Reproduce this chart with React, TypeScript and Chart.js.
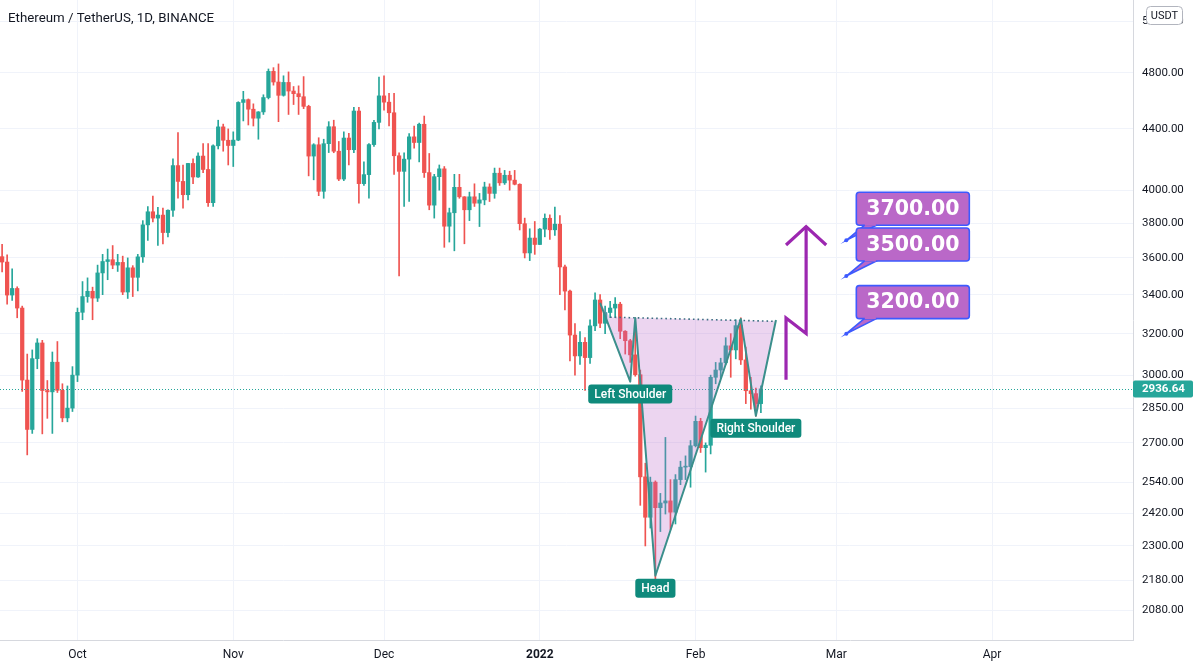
import React, { useEffect, useRef } from 'react';
import { Chart, registerables } from 'chart.js';

Chart.register(...registerables);

const TITLE = 'Ethereum / TetherUS, 1D, BINANCE';
const CURRENCY = 'USDT';
const ORIGIN_DATE = '2021-10-01';
const FIRST_CANDLE_DATE = '2021-09-16';
const LAST_PRICE = 2936.64;

// Daily candles, 2021-09-16 .. 2022-02-14
const open = [
  3607, 3577, 3398, 3433, 3330, 2977, 2757, 3078, 3154, 2929, 2923, 3061, 2930, 2807, 2850,
  3000, 3308, 3390, 3418, 3382, 3517, 3580, 3590, 3560, 3575, 3414, 3545, 3493, 3606, 3790, 3868, 3830, 3848, 3745, 3877, 4156, 4055, 3972, 4170, 4083, 4218, 4131, 3923, 4286, 4414, 4323,
  4288, 4324, 4585, 4605, 4537, 4474, 4518, 4620, 4812, 4733, 4636, 4730, 4667, 4648, 4626, 4557, 4218, 4293, 3993, 4300, 4415, 4250, 4070, 4338, 4260, 4524, 4041, 4098, 4294, 4445,
  4632, 4587, 4512, 4220, 4119, 4198, 4346, 4308, 4432, 4111, 3908, 4085, 4135, 3782, 3862, 4018, 3959, 3880, 3959, 3920, 3940, 4020, 3980, 4107, 4046, 4094, 4063, 4037, 3797, 3628, 3713,
  3676, 3765, 3829, 3761, 3794, 3550, 3419, 3193, 3091, 3157, 3083, 3239, 3372, 3252, 3307, 3330, 3350, 3212, 3165, 3096, 3002, 2561, 2405, 2540, 2441, 2459, 2467, 2424, 2550, 2600, 2602,
  2688, 2792, 2680, 2690, 2990, 3024, 3058, 3140, 3120, 3240, 3072, 2928, 2915, 2870,
];
const high = [
  3677, 3617, 3539, 3442, 3340, 3100, 3120, 3175, 3167, 2975, 3110, 3161, 2960, 2950, 3040,
  3330, 3470, 3490, 3440, 3560, 3620, 3650, 3670, 3620, 3610, 3600, 3557, 3620, 3815, 3900, 3963, 3895, 3890, 3880, 4200, 4375, 4160, 4170, 4200, 4240, 4300, 4300, 4292, 4460, 4433, 4400,
  4380, 4590, 4665, 4610, 4575, 4520, 4640, 4830, 4840, 4868, 4779, 4808, 4700, 4705, 4773, 4565, 4300, 4340, 4330, 4450, 4460, 4315, 4380, 4370, 4550, 4550, 4180, 4300, 4460, 4770,
  4778, 4650, 4650, 4240, 4240, 4368, 4420, 4440, 4489, 4235, 4100, 4160, 4150, 3890, 4100, 4100, 3960, 3988, 4040, 3980, 4050, 4040, 4140, 4140, 4125, 4120, 4125, 4040, 3830, 3767, 3810,
  3769, 3855, 3850, 3897, 3845, 3560, 3425, 3250, 3210, 3180, 3270, 3410, 3400, 3340, 3365, 3385, 3360, 3215, 3172, 3260, 3024, 2616, 2560, 2545, 2496, 2723, 2550, 2570, 2624, 2646, 2710,
  2815, 2805, 2700, 3000, 3060, 3080, 3180, 3200, 3270, 3280, 3134, 2990, 2940, 2950,
];
const low = [
  3522, 3350, 3370, 3280, 2925, 2650, 2740, 3030, 2738, 2805, 2740, 2920, 2790, 2790, 2835,
  2970, 3270, 3360, 3270, 3364, 3400, 3480, 3540, 3525, 3400, 3380, 3390, 3420, 3575, 3700, 3808, 3670, 3680, 3720, 3840, 3950, 3890, 3940, 4040, 4080, 4110, 3900, 3900, 4265, 4250, 4160,
  4150, 4320, 4455, 4427, 4420, 4330, 4500, 4610, 4710, 4450, 4630, 4500, 4570, 4500, 4541, 4090, 4065, 3966, 3950, 4241, 4240, 4060, 4060, 4160, 4240, 3920, 4030, 3950, 4282, 4400,
  4530, 4420, 4100, 3500, 3900, 3930, 4270, 4180, 4080, 3880, 3830, 4000, 3660, 3690, 3640, 3950, 3680, 3815, 3900, 3780, 3910, 3930, 3950, 4030, 4036, 4000, 4033, 3760, 3600, 3585, 3620,
  3676, 3720, 3705, 3728, 3400, 3320, 3067, 3000, 3050, 2930, 3055, 3215, 3230, 3200, 3280, 3280, 3175, 3100, 3060, 2995, 2450, 2300, 2365, 2159, 2352, 2417, 2360, 2380, 2530, 2550, 2520,
  2683, 2660, 2580, 2654, 2960, 2985, 3050, 2990, 3077, 3050, 2870, 2845, 2815, 2830,
];
const close = [
  3577, 3398, 3433, 3330, 2977, 2757, 3078, 3154, 2929, 2923, 3061, 2930, 2807, 2850, 3000,
  3308, 3390, 3418, 3382, 3517, 3580, 3590, 3560, 3575, 3414, 3545, 3493, 3606, 3790, 3868, 3830, 3848, 3745, 3877, 4156, 4055, 3972, 4170, 4083, 4218, 4131, 3923, 4286, 4414, 4323, 4288,
  4324, 4585, 4605, 4537, 4474, 4518, 4620, 4812, 4733, 4636, 4730, 4667, 4648, 4626, 4557, 4218, 4293, 3993, 4300, 4415, 4250, 4070, 4338, 4260, 4524, 4041, 4098, 4294, 4445, 4632,
  4587, 4512, 4220, 4119, 4198, 4346, 4308, 4432, 4111, 3908, 4085, 4135, 3782, 3862, 4018, 3959, 3880, 3959, 3920, 3940, 4020, 3980, 4107, 4046, 4094, 4063, 4037, 3797, 3628, 3713, 3676,
  3765, 3829, 3761, 3794, 3550, 3419, 3193, 3091, 3157, 3083, 3239, 3372, 3252, 3307, 3330, 3350, 3212, 3165, 3096, 3002, 2561, 2405, 2540, 2441, 2459, 2467, 2424, 2550, 2600, 2602, 2688,
  2792, 2680, 2690, 2990, 3024, 3058, 3140, 3120, 3240, 3072, 2928, 2915, 2870, 2936.64,
];

const priceTicks = [2080, 2180, 2300, 2420, 2540, 2700, 2850, 3000, 3200, 3400, 3600, 3800, 4000, 4400, 4800, 5200];
const timeTickDates = ['2021-10-01', '2021-11-01', '2021-12-01', '2022-01-01', '2022-02-01', '2022-03-01', '2022-04-01'];
const timeTickLabels = ['Oct', 'Nov', 'Dec', '2022', 'Feb', 'Mar', 'Apr'];

// visible window (days relative to ORIGIN_DATE, price range)
const VIEW_DAYS = [-15.42, 210.05];
const VIEW_PRICES = [1987, 5377];

// inverse head & shoulders drawing
const patternDates = ['2022-01-13', '2022-01-19', '2022-01-20', '2022-01-24', '2022-02-10', '2022-02-13', '2022-02-17'];
const patternPrices = [3357, 2970, 3279, 2196, 3274, 2816, 3269];
const necklineDates = ['2022-01-15', '2022-02-17'];
const necklinePrices = [3283, 3262];
const patternLabels = ['Left Shoulder', 'Head', 'Right Shoulder'];
const patternLabelPoints = [1, 3, 5];

// purple breakout arrow
const arrowDates = ['2022-02-19', '2022-02-19', '2022-02-23', '2022-02-23'];
const arrowPrices = [2978, 3279, 3201, 3780];
const arrowHeadDates = ['2022-02-19', '2022-02-23', '2022-02-27'];
const arrowHeadPrices = [3673, 3780, 3673];

// target price callouts
const targetDate = '2022-03-03';
const targetPrices = [3700, 3500, 3200];

const UP = '#26a69a';
const DOWN = '#ef5350';
const GRID = '#f0f3fa';
const TEXT = '#131722';

function dayIndex(iso: string): number {
  return Math.round((Date.parse(iso + 'T00:00:00Z') - Date.parse(ORIGIN_DATE + 'T00:00:00Z')) / 86400000);
}

function roundRect(ctx: CanvasRenderingContext2D, x: number, y: number, w: number, h: number, r: number) {
  ctx.beginPath();
  ctx.moveTo(x + r, y);
  ctx.lineTo(x + w - r, y);
  ctx.quadraticCurveTo(x + w, y, x + w, y + r);
  ctx.lineTo(x + w, y + h - r);
  ctx.quadraticCurveTo(x + w, y + h, x + w - r, y + h);
  ctx.lineTo(x + r, y + h);
  ctx.quadraticCurveTo(x, y + h, x, y + h - r);
  ctx.lineTo(x, y + r);
  ctx.quadraticCurveTo(x, y, x + r, y);
  ctx.closePath();
}

const overlay = {
  id: 'overlay',
  afterDatasetsDraw(chart: any) {
    const { ctx, chartArea: a } = chart;
    const sx = chart.scales.x;
    const sy = chart.scales.y;
    const px = (d: string) => sx.getPixelForValue(dayIndex(d));
    const py = (p: number) => sy.getPixelForValue(p);
    ctx.save();
    ctx.beginPath();
    ctx.rect(a.left, a.top, a.right - a.left, a.bottom - a.top);
    ctx.clip();

    // last price dotted line
    const ly = Math.round(py(LAST_PRICE)) + 0.5;
    ctx.strokeStyle = UP;
    ctx.lineWidth = 1;
    ctx.setLineDash([1, 2]);
    ctx.beginPath();
    ctx.moveTo(a.left, ly);
    ctx.lineTo(a.right, ly);
    ctx.stroke();
    ctx.setLineDash([]);

    // pattern fill (bounded above by the neckline)
    const pts = patternDates.map((d, i) => [px(d), py(patternPrices[i])]);
    ctx.fillStyle = 'rgba(186,104,200,0.28)';
    ctx.beginPath();
    pts.forEach(([X, Y], i) => (i ? ctx.lineTo(X, Y) : ctx.moveTo(X, Y)));
    ctx.lineTo(px(necklineDates[1]), py(necklinePrices[1]));
    ctx.lineTo(px(necklineDates[0]), py(necklinePrices[0]));
    ctx.closePath();
    ctx.fill();

    // neckline
    ctx.strokeStyle = '#3c6e82';
    ctx.lineWidth = 1.6;
    ctx.setLineDash([1.6, 3]);
    ctx.beginPath();
    ctx.moveTo(px(necklineDates[0]), py(necklinePrices[0]));
    ctx.lineTo(px(necklineDates[1]), py(necklinePrices[1]));
    ctx.stroke();
    ctx.setLineDash([]);

    // pattern line
    ctx.strokeStyle = '#3b8f8c';
    ctx.lineWidth = 2;
    ctx.lineJoin = 'round';
    ctx.beginPath();
    pts.forEach(([X, Y], i) => (i ? ctx.lineTo(X, Y) : ctx.moveTo(X, Y)));
    ctx.stroke();

    // labels
    ctx.font = '500 12px Roboto';
    ctx.textAlign = 'center';
    ctx.textBaseline = 'middle';
    patternLabels.forEach((t, i) => {
      const [X, Y] = pts[patternLabelPoints[i]];
      const w = ctx.measureText(t).width + 12;
      const h = 19;
      const bx = X - w / 2;
      const by = Y + 3;
      ctx.fillStyle = '#0f8a7c';
      roundRect(ctx, bx, by, w, h, 3);
      ctx.fill();
      ctx.fillStyle = '#ffffff';
      ctx.fillText(t, X, by + h / 2 + 0.5);
    });

    // arrow
    ctx.strokeStyle = '#9c27b0';
    ctx.lineWidth = 3.2;
    ctx.lineJoin = 'miter';
    ctx.lineCap = 'butt';
    ctx.beginPath();
    arrowDates.forEach((d, i) => (i ? ctx.lineTo(px(d), py(arrowPrices[i])) : ctx.moveTo(px(d), py(arrowPrices[i]))));
    ctx.stroke();
    ctx.beginPath();
    arrowHeadDates.forEach((d, i) => (i ? ctx.lineTo(px(d), py(arrowHeadPrices[i])) : ctx.moveTo(px(d), py(arrowHeadPrices[i]))));
    ctx.stroke();

    // target callouts
    targetPrices.forEach((p) => {
      const ax = px(targetDate);
      const ay = py(p);
      const bw = 113;
      const bh = 33;
      const bl = ax + 10;
      const bb = ay - 15;
      const bt = bb - bh;
      ctx.lineWidth = 1.6;
      ctx.strokeStyle = '#3d5afe';
      ctx.fillStyle = '#ba68c8';
      ctx.beginPath();
      ctx.moveTo(ax, ay);
      ctx.lineTo(bl + 8, bb);
      ctx.lineTo(bl + 20, bb);
      ctx.closePath();
      ctx.fill();
      ctx.stroke();
      roundRect(ctx, bl, bt, bw, bh, 3);
      ctx.fill();
      ctx.stroke();
      ctx.fillStyle = '#ba68c8';
      ctx.fillRect(bl + 8.5, bb - 2, 11, 2.5);
      ctx.fillStyle = '#3d5afe';
      ctx.beginPath();
      ctx.arc(ax, ay, 2, 0, Math.PI * 2);
      ctx.fill();
      ctx.fillStyle = '#ffffff';
      ctx.font = 'bold 20.5px "DejaVu Sans"';
      ctx.textAlign = 'center';
      ctx.textBaseline = 'middle';
      ctx.fillText(p.toFixed(2), bl + bw / 2, bt + bh / 2 + 1);
    });

    ctx.restore();
  },
  afterDraw(chart: any) {
    const { ctx, chartArea: a } = chart;
    const sy = chart.scales.y;
    ctx.save();
    const ly = Math.round(sy.getPixelForValue(LAST_PRICE));
    ctx.fillStyle = UP;
    roundRect(ctx, a.right, ly - 8.5, 60, 17, 2);
    ctx.fill();
    ctx.fillStyle = '#ffffff';
    ctx.font = 'bold 11.5px Roboto';
    ctx.textAlign = 'left';
    ctx.textBaseline = 'middle';
    ctx.fillText(LAST_PRICE.toFixed(2), a.right + 9, ly + 0.5);

    ctx.fillStyle = '#ffffff';
    ctx.strokeStyle = '#b2b5be';
    ctx.lineWidth = 1;
    roundRect(ctx, 1146.5, 6.5, 36, 18, 4);
    ctx.fill();
    ctx.stroke();
    ctx.fillStyle = TEXT;
    ctx.font = '11px Roboto';
    ctx.textAlign = 'center';
    ctx.fillText(CURRENCY, 1164.5, 16);

    ctx.fillStyle = TEXT;
    ctx.font = '13.3px Roboto';
    ctx.textAlign = 'left';
    ctx.textBaseline = 'alphabetic';
    ctx.fillText(TITLE, 8, 21.5);
    ctx.restore();
  },
};

export default function App() {
  const ref = useRef<HTMLCanvasElement>(null);
  useEffect(() => {
    const canvas = ref.current as HTMLCanvasElement;
    const firstDay = dayIndex(FIRST_CANDLE_DATE);
    const colors = close.map((c, i) => (c >= open[i] ? UP : DOWN));
    const bodies = open.map((o, i) => ({ x: firstDay + i, y: [o, close[i]] }));
    const wicks = high.map((h, i) => ({ x: firstDay + i, y: [low[i], h] }));
    const tickDays = timeTickDates.map(dayIndex);

    const chart = new Chart(canvas, {
      type: 'bar',
      data: {
        datasets: [
          {
            label: 'body',
            data: bodies as any,
            backgroundColor: colors,
            barThickness: 3.6,
            minBarLength: 1,
            grouped: false,
            order: 0,
          } as any,
          {
            label: 'wick',
            data: wicks as any,
            backgroundColor: colors,
            barThickness: 1,
            grouped: false,
            order: 1,
          } as any,
        ],
      },
      options: {
        responsive: false,
        animation: false,
        layout: { padding: 0 },
        plugins: {
          legend: { display: false },
          tooltip: { enabled: false },
          title: { display: false },
        },
        scales: {
          x: {
            type: 'linear',
            position: 'bottom',
            min: VIEW_DAYS[0],
            max: VIEW_DAYS[1],
            offset: false,
            grid: { color: GRID, drawTicks: false, offset: false },
            border: { color: '#d6d8de' },
            ticks: {
              autoSkip: false,
              maxRotation: 0,
              padding: 8,
              color: TEXT,
              font: (c: any) => ({ family: 'Roboto', size: 12, weight: c.index === 3 ? 'bold' : 'normal' }),
              callback: (v: any) => {
                const k = tickDays.indexOf(Number(v));
                return k >= 0 ? timeTickLabels[k] : '';
              },
            },
            afterBuildTicks: (s: any) => {
              s.ticks = tickDays.map((d) => ({ value: d }));
            },
            afterFit: (s: any) => {
              s.height = 28;
              s.paddingLeft = 0;
              s.paddingRight = 0;
              s.paddingTop = 0;
              s.paddingBottom = 0;
            },
          } as any,
          y: {
            type: 'logarithmic',
            position: 'right',
            min: VIEW_PRICES[0],
            max: VIEW_PRICES[1],
            grid: { color: GRID, drawTicks: false },
            border: { color: '#d6d8de' },
            ticks: {
              autoSkip: false,
              padding: 9,
              color: TEXT,
              font: { family: 'Roboto', size: 11.5 },
              callback: (v: any) => Number(v).toFixed(2),
            },
            afterBuildTicks: (s: any) => {
              s.ticks = priceTicks.map((p) => ({ value: p }));
            },
            afterFit: (s: any) => {
              s.width = 63;
              s.paddingTop = 0;
              s.paddingBottom = 0;
              s.paddingLeft = 0;
              s.paddingRight = 0;
            },
          } as any,
        },
      },
      plugins: [overlay],
    });
    return () => chart.destroy();
  }, []);

  return (
    <div style={{ position: 'absolute', left: 0, top: 0, width: 1196, height: 668, background: '#ffffff' }}>
      <canvas ref={ref} width={1196} height={668} style={{ display: 'block', width: 1196, height: 668 }} />
    </div>
  );
}
